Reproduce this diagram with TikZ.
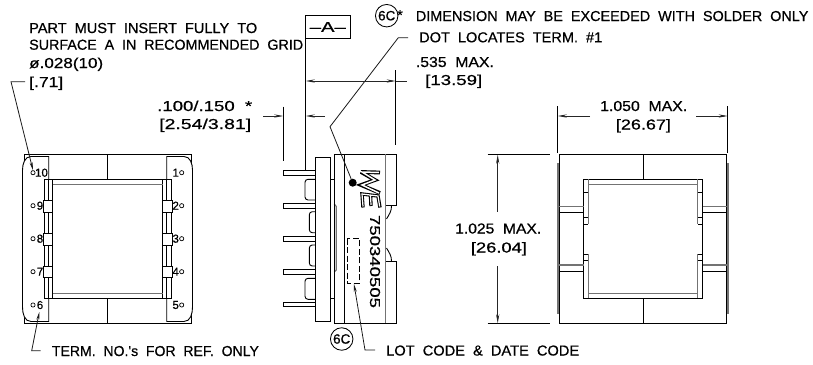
\documentclass[tikz,border=0pt]{standalone}
\usepackage{fontspec}
\setmainfont{Liberation Sans}
\newfontfamily\cad{Liberation Sans}[FakeBold=0.6]
\usetikzlibrary{arrows.meta}
\newcommand{\fitw}[2]{\resizebox{#1pt}{\height}{\spaceskip 0.55em\relax #2}}
\tikzset{
  ln/.style={line width=0.9pt,black},
  gl/.style={line width=1.2pt,black!55},
  dim/.style={line width=0.8pt,black!85,-{Stealth[length=9pt,width=3.2pt]}},
  lead/.style={line width=0.8pt,black!90},
  txt/.style={inner sep=0pt,anchor=base west,font=\cad\fontsize{14.4}{15}\selectfont},
  pinlabel/.style={inner sep=0pt,font=\cad\fontsize{11.5}{12}\selectfont},
  term/.style={circle,draw,line width=0.7pt,minimum size=4.2pt,inner sep=0pt},
  callout/.style={circle,draw,line width=0.85pt,minimum size=22.5pt,inner sep=0pt,font=\cad\fontsize{13.5}{14}\selectfont}
}
\begin{document}
\begin{tikzpicture}[x=1pt,y=-1pt]
\useasboundingbox (0,0) rectangle (813,364);
% ===== text =====
\node[txt] (t1) at (29,33) {\fitw{228}{PART MUST INSERT FULLY TO}};
\node[txt] (t2) at (29,49.7) {\fitw{274}{SURFACE A IN RECOMMENDED GRID}};
\node[txt] (t3) at (29,68) {\fitw{74}{ø.028(10)}};
\node[txt] (t4) at (29,87) {\fitw{34}{[.71]}};
\node[txt] (t5) at (157,111) {\fitw{95}{.100/.150 *}};
\node[txt] (t6) at (159,129) {\fitw{92}{[2.54/3.81]}};
\node[txt] (t7) at (415.7,21) {\fitw{392.5}{DIMENSION MAY BE EXCEEDED WITH SOLDER ONLY}};
\node[txt] (t8) at (419,42.3) {\fitw{183}{DOT LOCATES TERM. \#1}};
\node[txt] (t9) at (415.7,67) {\fitw{78}{.535 MAX.}};
\node[txt] (t10) at (425,85) {\fitw{57}{[13.59]}};
\node[txt] (t11) at (600,111) {\fitw{87}{1.050 MAX.}};
\node[txt] (t12) at (615.7,129.5) {\fitw{55}{[26.67]}};
\node[txt] (t13) at (455,233.5) {\fitw{86}{1.025 MAX.}};
\node[txt] (t14) at (470.7,252.5) {\fitw{56}{[26.04]}};
\node[txt] (t15) at (51.7,356) {\fitw{207}{TERM. NO.'s FOR REF. ONLY}};
\node[txt] (t16) at (386,355.5) {\fitw{193}{LOT CODE \& DATE CODE}};
\node[txt,anchor=base] (star) at (400,20) {*};
\node[callout] (c1) at (386.7,15.7) {6C};
\node[callout] (c2) at (341.7,339) {6C};
\node[draw,line width=0.9pt,minimum width=44.3pt,minimum height=22.6pt,inner sep=0pt,font=\cad\fontsize{14.4}{15}\selectfont] (boxA) at (327.8,27) {\fitw{36}{–A–}};
% ===== left view =====
\draw[ln] (24,154) rectangle (191.5,323);
\draw[ln,fill=white] (48.7,156.5) -- (31,156.5) to[out=180,in=90] (22.5,170) -- (22.5,307) to[out=270,in=180] (31,321.5) -- (48.7,321.5) -- cycle;
\draw[ln,fill=white] (166.7,156.5) -- (184,156.5) to[out=0,in=90] (192.5,170) -- (192.5,307) to[out=270,in=0] (184,321.5) -- (166.7,321.5) -- cycle;
\draw[ln] (107.3,154) -- (107.3,179.3) (107.3,298.3) -- (107.3,323);
\draw[ln,fill=white] (44.3,179.3) rectangle (171,298.3);
\draw[ln] (48.3,179.3) -- (48.3,298.3) (52.7,179.3) -- (52.7,298.3) (162.7,179.3) -- (162.7,298.3) (166.7,179.3) -- (166.7,298.3);
\draw[gl] (52.7,184.3) -- (162.7,184.3) (52.7,293.7) -- (162.7,293.7);
\foreach \yy in {200.7,233.3,266}{
  \draw[ln,fill=white] (43.3,\yy) rectangle (52.7,\yy+11.7);
  \draw[ln,fill=white] (162.7,\yy) rectangle (172.3,\yy+11.7);
}
\node[term] (p10) at (33,172.7) {};
\node[term] (p9) at (33,205.7) {};
\node[term] (p8) at (33,238.7) {};
\node[term] (p7) at (33,271.7) {};
\node[term] (p6) at (33,305) {};
\node[term] (p1) at (181.7,172.7) {};
\node[term] (p2) at (181.7,205.7) {};
\node[term] (p3) at (181.7,238.7) {};
\node[term] (p4) at (181.7,271.7) {};
\node[term] (p5) at (181.7,305) {};
\node[pinlabel] (l10) at (41.5,172.7) {10};
\node[pinlabel] (l9) at (40,205.7) {9};
\node[pinlabel] (l8) at (40,238.7) {8};
\node[pinlabel] (l7) at (40,271.7) {7};
\node[pinlabel] (l6) at (40,305) {6};
\node[pinlabel] (l1) at (175.7,172.7) {1};
\node[pinlabel] (l2) at (175.7,205.7) {2};
\node[pinlabel] (l3) at (175.7,238.7) {3};
\node[pinlabel] (l4) at (175.7,271.7) {4};
\node[pinlabel] (l5) at (175.7,305) {5};
% leaders left view
\coordinate (a1) at (25,81.7); \coordinate (a2) at (11,81.7);
\draw[lead,-{Stealth[length=8pt,width=3pt]}] (a1) -- (a2) -- (p10.north);
\coordinate (b1) at (40.7,350.7); \coordinate (b2) at (31.7,350.7);
\draw[lead,-{Stealth[length=8pt,width=3pt]}] (b1) -- (b2) -- (39.3,312);
% ===== middle view =====
\draw[ln] (283.3,106.7) -- (283.3,160.7);
\draw[ln] (305.7,38.3) -- (305.7,170.7);
\draw[ln] (395.7,70) -- (395.7,145);
\foreach \yy in {172.7,206,238.7,271.7,304.3}{
  \draw[ln] (315.7,\yy-2.3) -- (283.3,\yy-2.3) -- (283.3,\yy+2.3) -- (315.7,\yy+2.3);
}
\draw[ln,rounded corners=3pt] (315.7,179.3) -- (305,179.3) -- (305,200) -- (315.7,200);
\draw[ln,rounded corners=3pt] (315.7,211.7) -- (309.3,211.7) -- (309.3,232.7) -- (315.7,232.7);
\draw[ln,rounded corners=3pt] (315.7,245) -- (309.3,245) -- (309.3,266) -- (315.7,266);
\draw[ln,rounded corners=3pt] (315.7,278.3) -- (305,278.3) -- (305,299.3) -- (315.7,299.3);
\draw[ln,fill=white] (315.7,157.3) rectangle (330.7,321);
\draw[ln] (330.7,179.3) -- (334.3,179.3) (330.7,298.3) -- (334.3,298.3);
\draw[gl] (334.3,204) -- (336.3,206.5) -- (336.3,270) -- (334.3,272);
\draw[ln] (334.3,323.3) -- (334.3,154) -- (396,154) -- (396,205.5) -- (385.7,205.5);
\draw[ln] (391.5,206) to[out=270,in=60] (386.5,219);
\draw[ln] (386.5,248) to[out=300,in=90] (391.5,261);
\draw[ln] (385.7,261.7) -- (396,261.7) -- (396,323.3) -- (334.3,323.3);
\draw[ln] (344,154) -- (344,323.3);
\draw[gl] (385.7,154) -- (385.7,323.3);
\draw[ln,dash pattern=on 6pt off 2.5pt] (347.3,238.7) rectangle (359.3,283.3);
\node[circle,fill=black,minimum size=8pt,inner sep=0pt] (dot) at (352.7,182.7) {};
% logo
\begin{scope}[line join=miter,miter limit=4,line cap=butt]
\draw[line width=3.8pt,black] (380,172.5) -- (361,172) -- (375,180) -- (361,185) -- (380,193);
\draw[line width=1.5pt,white] (379,172.5) -- (362,172) -- (375,180) -- (362,185) -- (379,193);
\draw[line width=3.4pt,black] (380,207.5) -- (378,196) -- (362,194) -- (363,207.5) (370.5,195) -- (371,206);
\draw[line width=1.2pt,white] (379.7,206.5) -- (378,196) -- (362,194) -- (363,206.5) (370.5,195) -- (371,205);
\end{scope}
\node[inner sep=0pt,rotate=-90,font=\cad\fontsize{14.4}{15}\selectfont] (part) at (375,261.5) {\fitw{93}{750340505}};
% leaders middle
\coordinate (d1) at (408,37.7); \coordinate (d2) at (398.3,37.7); \coordinate (d3) at (330,126.7);
\draw[lead] (d1) -- (d2) -- (d3) -- (dot);
\coordinate (e1) at (375,350); \coordinate (e2) at (365,350);
\draw[lead,-{Stealth[length=8pt,width=3pt]}] (e1) -- (e2) -- (354,284);
% dims middle
\coordinate (f1) at (406.7,81);
\draw[dim,{Stealth[length=9pt,width=3.2pt]}-{Stealth[length=9pt,width=3.2pt]}] (305.7,81) -- (395.7,81);
\draw[dim,-] (395.7,81) -- (f1);
\draw[dim] (263,116) -- (283.3,116);
\draw[dim] (325,116) -- (305.7,116);
% ===== right view =====
\draw[ln] (559.3,154.3) rectangle (726.7,323.3);
\draw[gl] (558,163) -- (558,314) (728,163) -- (728,314);
\draw[ln] (643,154.3) -- (643,179.3) (643,298.3) -- (643,323.3);
\draw[ln,fill=white] (583.7,179.3) rectangle (702.7,298.3);
\draw[gl] (588.3,184.3) -- (697.7,184.3) (588.3,293.7) -- (697.7,293.7);
\draw[gl] (588.3,179.3) -- (588.3,224.3) (588.3,254) -- (588.3,298.3) (697.7,179.3) -- (697.7,224.3) (697.7,254) -- (697.7,298.3);
\draw[ln] (583.7,192.3) -- (588.3,192.3) (583.7,217.7) -- (588.3,217.7) (583.7,224.3) -- (588.3,224.3) (583.7,254) -- (588.3,254) (583.7,260) -- (588.3,260);
\draw[ln] (702.7,192.3) -- (697.7,192.3) (702.7,217.7) -- (697.7,217.7) (702.7,224.3) -- (697.7,224.3) (702.7,254) -- (697.7,254) (702.7,260) -- (697.7,260);
\foreach \xa/\xb in {559.3/583.7,702.7/726.7}{
  \draw[gl] (\xa,206.7) -- (\xb,206.7) (\xa,265) -- (\xb,265);
  \draw[ln] (\xa,212.5) -- (\xb,212.5) (\xa,271.5) -- (\xb,271.5);
}
% dims right
\draw[ln] (557.7,106) -- (557.7,153) (727.7,106) -- (727.7,153);
\draw[dim] (590,116) -- (557.7,116);
\draw[dim] (696,116) -- (727.7,116);
\coordinate (g1) at (487.7,154.7); \coordinate (g2) at (550,154.7);
\coordinate (g3) at (487.7,323.3); \coordinate (g4) at (550,323.3);
\draw[ln] (g1) -- (g2) (g3) -- (g4);
\draw[dim] (497.7,211.7) -- (497.7,154.7);
\draw[dim] (497.7,266) -- (497.7,323.3);
\end{tikzpicture}
\end{document}
